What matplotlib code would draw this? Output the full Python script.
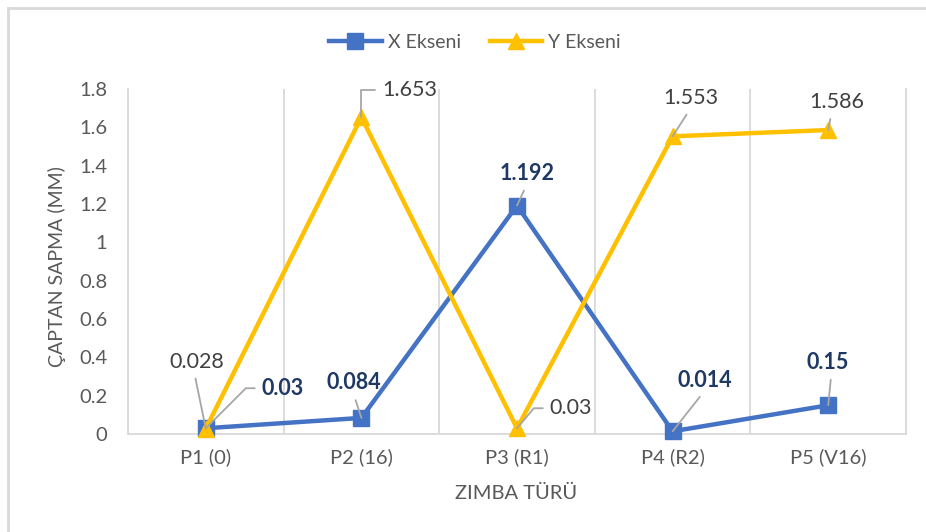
import matplotlib
matplotlib.use('Agg')
import matplotlib.pyplot as plt
from matplotlib.lines import Line2D

categories = ['P1 (0)', 'P2 (16)', 'P3 (R1)', 'P4 (R2)', 'P5 (V16)']
x_ekseni = [0.03, 0.084, 1.192, 0.014, 0.15]
y_ekseni = [0.028, 1.653, 0.03, 1.553, 1.586]
y_ticks = [0, 0.2, 0.4, 0.6, 0.8, 1, 1.2, 1.4, 1.6, 1.8]
y_tick_labels = ['0', '0.2', '0.4', '0.6', '0.8', '1', '1.2', '1.4', '1.6', '1.8']
series_names = ['X Ekseni', 'Y Ekseni']
x_title = 'ZIMBA TÜRÜ'
y_title = 'ÇAPTAN SAPMA (MM)'

plt.rcParams['font.family'] = ['Lato', 'DejaVu Sans']

W, H = 926, 532
fig = plt.figure(figsize=(W / 100, H / 100), dpi=100)
ax = fig.add_axes([128 / W, 1 - 434 / H, (906 - 128) / W, (434 - 89) / H])

BLUE = '#4472C4'
GOLD = '#FFC000'
GRID = '#d9d9d9'
TXT = '#595959'

xs = list(range(len(categories)))
ax.plot(xs, x_ekseni, color=BLUE, lw=3.2, marker='s', ms=11, label=series_names[0],
        zorder=3, clip_on=False)
ax.plot(xs, y_ekseni, color=GOLD, lw=3.2, marker='^', ms=12, label=series_names[1],
        zorder=4, clip_on=False)

ax.set_xlim(-0.5, len(categories) - 0.5)
ax.set_ylim(0, 1.8)
ax.set_yticks(y_ticks)
ax.set_yticklabels(y_tick_labels)
ax.set_xticks(xs)
ax.set_xticklabels(categories)
ax.set_xticks([i - 0.5 for i in range(len(categories) + 1)], minor=True)
ax.grid(which='minor', axis='x', color=GRID, lw=1.3)
ax.tick_params(which='both', length=0)
ax.tick_params(axis='y', pad=15, labelsize=14.5, labelcolor=TXT)
ax.tick_params(axis='x', pad=10, labelsize=14.5, labelcolor=TXT)
ax.spines['top'].set_visible(False)
for s in ['left', 'right', 'bottom']:
    ax.spines[s].set_color(GRID)
    ax.spines[s].set_linewidth(1.3)

# data label placement (pixel offsets), styles
x_offsets = [(77, 40), (-8, 35), (10, 32), (32, 51), (-1, 43)]
y_offsets = [(-9, 67), (48, 27), (54, 20), (18, 38), (9, 28)]
x_conn = [('angle,angleA=0,angleB=45', (0, 0.5)), (None, (0.5, 0)), (None, (0.5, 0)),
          (None, (0.5, 0)), (None, (0.6, 0))]
y_conn = [(None, (0.45, 0)), ('angle,angleA=0,angleB=90', (0, 0.5)),
          ('angle,angleA=0,angleB=50', (0, 0.5)), (None, (0.5, 0)), (None, (0.4, 0))]


def label(i, v, off, conn, color, weight):
    cs, rel = conn
    props = dict(arrowstyle='-', color='#a6a6a6', lw=1.3, shrinkA=3, shrinkB=0, relpos=rel)
    if cs is not None:
        props['connectionstyle'] = cs
        props['shrinkA'] = 3
    ax.annotate(f'{v:g}', xy=(i, v), xytext=off, textcoords='offset pixels',
                ha='center', va='center', fontsize=15.5, color=color,
                fontweight=weight, arrowprops=props, zorder=6,
                annotation_clip=False)


for i, v in enumerate(x_ekseni):
    label(i, v, x_offsets[i], x_conn[i], '#1F3864', 'bold')
for i, v in enumerate(y_ekseni):
    label(i, v, y_offsets[i], y_conn[i], '#404040', 'normal')

fig.legend(loc='center', bbox_to_anchor=(475 / W, 1 - 42 / H), ncol=2, frameon=False,
           fontsize=14, labelcolor=TXT, handlelength=2.7, columnspacing=1.5,
           handletextpad=0.3)

fig.text(57 / W, 1 - 267 / H, y_title, rotation=90, ha='center', va='center',
         fontsize=14, color=TXT)
fig.text(516 / W, 1 - 493 / H, x_title, ha='center', va='center', fontsize=14.5, color=TXT)

fig.add_artist(Line2D([8 / W, 8 / W], [0, 1 - 8 / H], transform=fig.transFigure,
                      color=GRID, lw=2))
fig.add_artist(Line2D([8 / W, 1], [1 - 8 / H, 1 - 8 / H], transform=fig.transFigure,
                      color=GRID, lw=2))

fig.savefig('out.png', dpi=100)
